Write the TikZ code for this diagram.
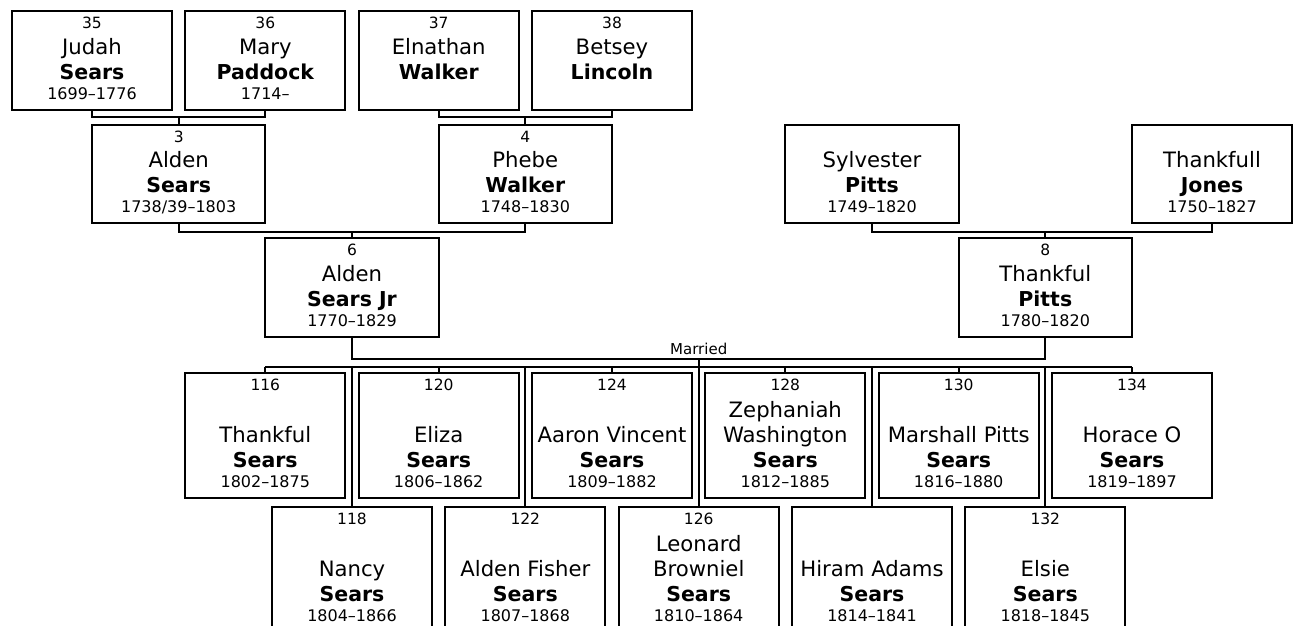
\documentclass[tikz,border=0pt]{standalone}
\usepackage{fontspec}
\setmainfont{DejaVu Sans}
\usetikzlibrary{calc}
\tikzset{
  pbox/.style={draw=black, line width=2pt, rectangle, inner sep=0pt, outer sep=0pt, fill=white},
  conn/.style={draw=black, line width=2pt},
  txt/.style={inner sep=0pt, outer sep=0pt, text=black},
  numf/.style={txt, font=\fontsize{15.5}{18}\selectfont},
  namef/.style={txt, font=\fontsize{21.2}{24}\selectfont},
  surf/.style={txt, font=\fontsize{20.5}{24}\selectfont\bfseries},
  datef/.style={txt, font=\fontsize{16}{19}\selectfont},
  marf/.style={txt, font=\fontsize{15}{18}\selectfont},
}
% #1 id, #2 cx, #3 top, #4 width, #5 height, #6 number, #7 first, #8 last, #9 dates
\newcommand\person[9]{%
  \node[pbox, minimum width=#4pt, minimum height=#5pt, anchor=north] (#1) at (#2,#3) {};
  \node[numf, anchor=base] (#1-n) at ([yshift=-17.5pt]#1.north) {#6};
  \node[namef, anchor=base] (#1-f) at ([yshift=56pt]#1.south) {#7};
  \node[surf, anchor=base] (#1-s) at ([yshift=31pt]#1.south) {#8};
  \node[datef, anchor=base] (#1-d) at ([yshift=11pt]#1.south) {#9};
}
\newcommand\extraname[2]{%
  \node[namef, anchor=base] (#1-f2) at ([yshift=81pt]#1.south) {#2};
}
\begin{document}
\begin{tikzpicture}[x=1pt,y=-1pt]
\useasboundingbox (0,0) rectangle (1295,625);
\clip (0,0) rectangle (1295,625);
% generation 4
\person{p35}{92}{11}{160}{99}{35}{Judah}{Sears}{1699–1776}
\person{p36}{265.3}{11}{160}{99}{36}{Mary}{Paddock}{1714–}
\person{p37}{438.7}{11}{160}{99}{37}{Elnathan}{Walker}{}
\person{p38}{612}{11}{160}{99}{38}{Betsey}{Lincoln}{}
% generation 3
\person{p3}{178.7}{125}{173.3}{98}{3}{Alden}{Sears}{1738/39–1803}
\person{p4}{525.3}{125}{173.3}{98}{4}{Phebe}{Walker}{1748–1830}
\person{psp}{872}{125}{173.3}{98}{}{Sylvester}{Pitts}{1749–1820}
\person{ptj}{1212}{125}{160}{98}{}{Thankfull}{Jones}{1750–1827}
% generation 2
\person{p6}{352}{238}{173.3}{99}{6}{Alden}{Sears Jr}{1770–1829}
\person{p8}{1045.3}{238}{173.3}{99}{8}{Thankful}{Pitts}{1780–1820}
% children row 1
\person{p116}{265.3}{373}{160}{125}{116}{Thankful}{Sears}{1802–1875}
\person{p120}{438.7}{373}{160}{125}{120}{Eliza}{Sears}{1806–1862}
\person{p124}{612}{373}{160}{125}{124}{Aaron Vincent}{Sears}{1809–1882}
\person{p128}{785.3}{373}{160}{125}{128}{Washington}{Sears}{1812–1885}
\extraname{p128}{Zephaniah}
\person{p130}{958.7}{373}{160}{125}{130}{Marshall Pitts}{Sears}{1816–1880}
\person{p134}{1132}{373}{160}{125}{134}{Horace O}{Sears}{1819–1897}
% children row 2
\person{p118}{352}{507}{160}{125}{118}{Nancy}{Sears}{1804–1866}
\person{p122}{525.3}{507}{160}{125}{122}{Alden Fisher}{Sears}{1807–1868}
\person{p126}{698.7}{507}{160}{125}{126}{Browniel}{Sears}{1810–1864}
\extraname{p126}{Leonard}
\person{p127}{872}{507}{160}{125}{}{Hiram Adams}{Sears}{1814–1841}
\person{p132}{1045.3}{507}{160}{125}{132}{Elsie}{Sears}{1818–1845}
% parent connectors
\draw[conn] (p35.south) -- ++(0,7) -| (p36.south);
\draw[conn] (p3.north) -- ++(0,-8);
\draw[conn] (p37.south) -- ++(0,7) -| (p38.south);
\draw[conn] (p4.north) -- ++(0,-8);
\draw[conn] (p3.south) -- ++(0,9) -| (p4.south);
\draw[conn] (p6.north) -- ++(0,-6);
\draw[conn] (psp.south) -- ++(0,9) -| (ptj.south);
\draw[conn] (p8.north) -- ++(0,-6);
% marriage and children
\draw[conn] (p6.south) -- ++(0,22) coordinate (mL) -| (p8.south);
\coordinate (mid) at (698.7,359);
\node[marf, anchor=base] (married) at ([yshift=4.5pt]mid) {Married};
\coordinate (busL) at (p116.north |- 0,367);
\coordinate (busR) at (p134.north |- 0,367);
\draw[conn] (busL) -- (busR);
\draw[conn] (mid) -- (p126.north);
\foreach \c in {p116,p120,p124,p128,p130,p134}{
  \draw[conn] (\c.north) -- (\c.north |- busL);
}
\foreach \c in {p118,p122,p127,p132}{
  \draw[conn] (\c.north) -- (\c.north |- busL);
}
\end{tikzpicture}
\end{document}
